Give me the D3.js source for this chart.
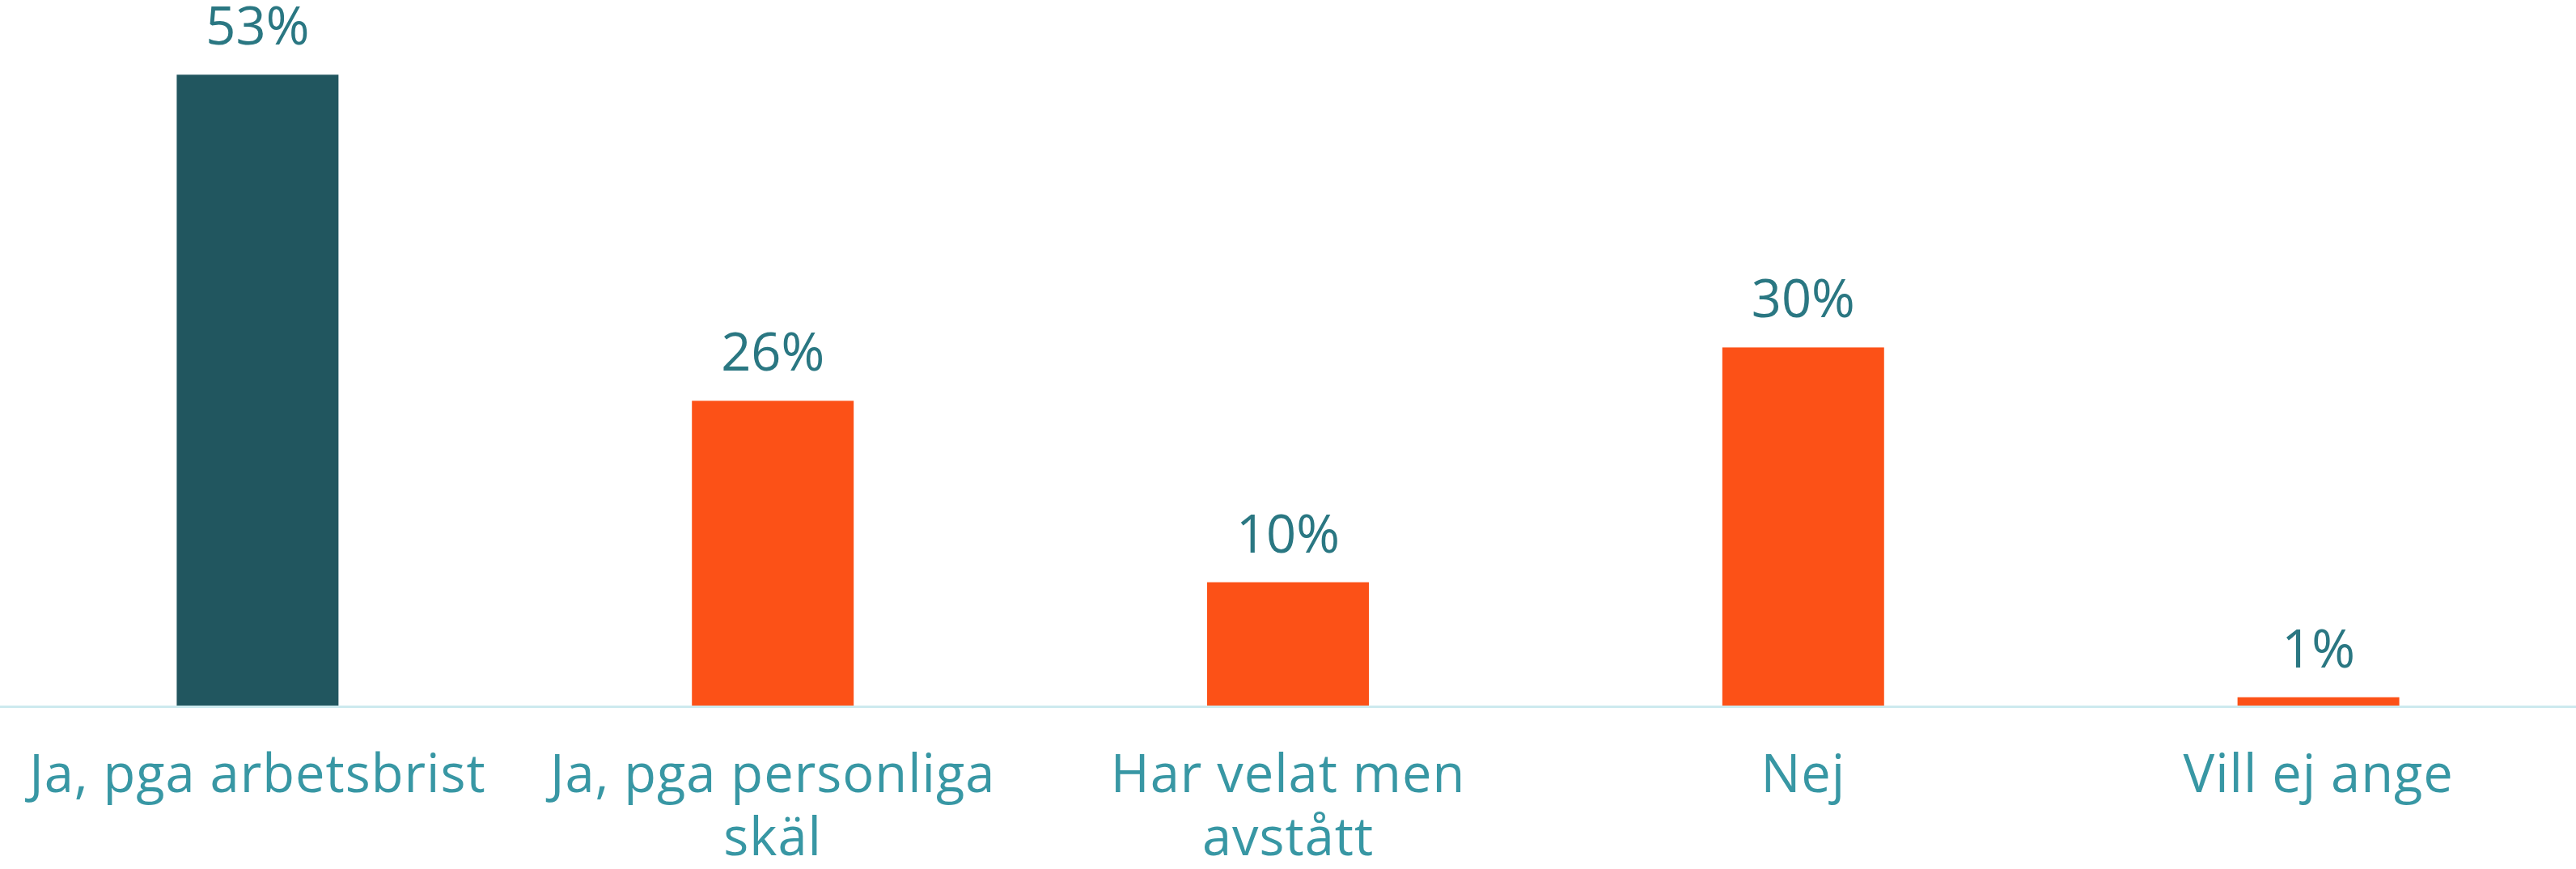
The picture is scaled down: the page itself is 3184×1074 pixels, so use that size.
<!doctype html>
<html lang="sv">
  <head>
    <meta charset="utf-8">
    <title>Stapeldiagram</title>
    <script src="https://d3js.org/d3.v7.min.js"></script>
    <style>
      body { margin: 0; background: #fff; }
      .valueLabel { font-family: 'Open Sans', sans-serif; font-size: 65px; fill: #2a7782; }
      .catLabel { font-family: 'Open Sans', sans-serif; font-size: 65px; fill: #3897a4; letter-spacing: 1px; }
    </style>
  </head>
  <body>
    <div id="holder"></div>
  </body>
  <script>
    // categories (\n = line break in the label)
    const categories = ['Ja, pga arbetsbrist', 'Ja, pga personliga\nskäl', 'Har velat men\navstått', 'Nej', 'Vill ej ange']
    // share in percent
    const values = [53.2, 25.7, 10.4, 30.2, 0.7]
    // bar colours, first one highlighted
    const barColors = ['#21565f', '#fc5117', '#fc5117', '#fc5117', '#fc5117']

    const w = 3184
    const h = 1074
    const baseY = 872

    const data = categories.map(function(c, i) {
      return { cat: c, value: values[i], color: barColors[i] }
    })

    const svg = d3.select('#holder')
      .append('svg')
      .attr('width', w)
      .attr('height', h)

    const x = d3.scaleBand()
      .domain(categories)
      .range([0, w])
      .paddingInner(0.686)
      .paddingOuter(0.343)

    const y = d3.scaleLinear()
      .domain([0, 59.5])
      .range([baseY, 0])

    // bars
    svg.selectAll('rect.bar')
      .data(data)
      .enter()
      .append('rect')
      .attr('class', 'bar')
      .attr('x', function(d) { return x(d.cat) })
      .attr('y', function(d) { return y(d.value) })
      .attr('width', x.bandwidth())
      .attr('height', function(d) { return y(0) - y(d.value) })
      .attr('fill', function(d) { return d.color })

    // base line
    svg.append('line')
      .attr('x1', 0)
      .attr('x2', w)
      .attr('y1', y(0) + 1.5)
      .attr('y2', y(0) + 1.5)
      .attr('stroke', '#cdeaef')
      .attr('stroke-width', 3)

    // value labels
    svg.selectAll('text.valueLabel')
      .data(data)
      .enter()
      .append('text')
      .attr('class', 'valueLabel')
      .attr('x', function(d) { return x(d.cat) + x.bandwidth() / 2 })
      .attr('y', function(d) { return y(d.value) - 37 })
      .attr('text-anchor', 'middle')
      .text(function(d) { return Math.round(d.value) + '%' })

    // category axis
    const xAxis = d3.axisBottom(x).tickSize(0)
    const gx = svg.append('g')
      .attr('transform', 'translate(0,' + baseY + ')')
      .call(xAxis)
    gx.select('.domain').remove()
    gx.selectAll('.tick text')
      .attr('class', 'catLabel')
      .attr('fill', null)
      .attr('y', 0)
      .attr('dy', null)
      .each(function(d) {
        const t = d3.select(this)
        t.text(null)
        d.split('\n').forEach(function(line, i) {
          t.append('tspan')
            .attr('x', 0)
            .attr('y', 107 + i * 78)
            .text(line)
        })
      })
    gx.attr('font-family', null).attr('font-size', null)
  </script>
</html>
